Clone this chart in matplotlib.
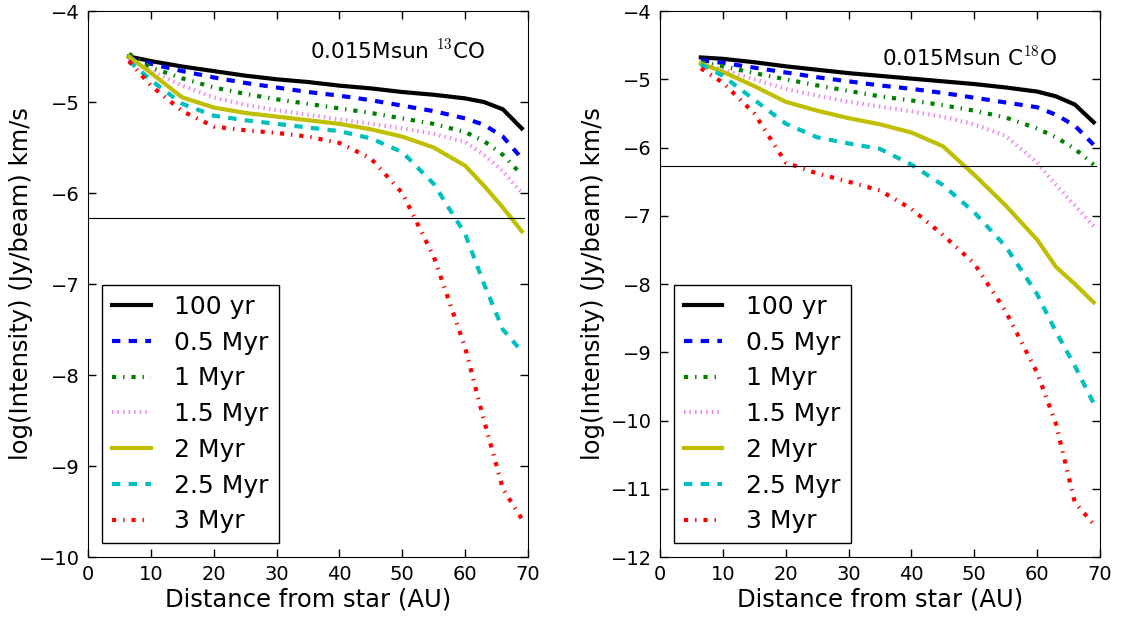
import numpy as np
import matplotlib
matplotlib.use('Agg')
import matplotlib.pyplot as plt

# radius grid (AU) shared by all model curves
radius = [6.5, 10, 15, 20, 25, 30, 35, 40, 45, 50, 55, 60, 63, 66, 69]
ages = ['100 yr', '0.5 Myr', '1 Myr', '1.5 Myr', '2 Myr', '2.5 Myr', '3 Myr']

# log intensity, 13CO
co13_100yr = [-4.50, -4.55, -4.61, -4.66, -4.71, -4.75, -4.78, -4.82, -4.85, -4.89, -4.92, -4.96, -5.00, -5.08, -5.29]
co13_05myr = [-4.52, -4.58, -4.66, -4.73, -4.79, -4.84, -4.89, -4.93, -4.98, -5.04, -5.10, -5.18, -5.25, -5.38, -5.62]
co13_1myr = [-4.47, -4.62, -4.74, -4.84, -4.91, -4.97, -5.02, -5.07, -5.12, -5.18, -5.24, -5.33, -5.43, -5.58, -5.80]
co13_15myr = [-4.52, -4.66, -4.82, -4.95, -5.03, -5.09, -5.14, -5.19, -5.24, -5.29, -5.35, -5.44, -5.58, -5.76, -6.00]
co13_2myr = [-4.50, -4.68, -4.95, -5.06, -5.12, -5.16, -5.20, -5.24, -5.30, -5.38, -5.50, -5.70, -5.92, -6.16, -6.42]
co13_25myr = [-4.55, -4.76, -5.02, -5.15, -5.20, -5.24, -5.28, -5.32, -5.40, -5.55, -5.90, -6.45, -7.00, -7.50, -7.74]
co13_3myr = [-4.55, -4.82, -5.10, -5.27, -5.31, -5.34, -5.38, -5.45, -5.62, -6.00, -6.70, -7.70, -8.50, -9.25, -9.58]

# log intensity, C18O
c18o_100yr = [-4.68, -4.70, -4.75, -4.81, -4.86, -4.91, -4.95, -4.99, -5.03, -5.07, -5.12, -5.18, -5.25, -5.37, -5.63]
c18o_05myr = [-4.72, -4.76, -4.83, -4.90, -4.97, -5.03, -5.09, -5.14, -5.20, -5.27, -5.34, -5.41, -5.52, -5.68, -5.96]
c18o_1myr = [-4.75, -4.81, -4.91, -5.00, -5.09, -5.17, -5.25, -5.31, -5.38, -5.46, -5.56, -5.72, -5.85, -6.02, -6.25]
c18o_15myr = [-4.77, -4.86, -5.00, -5.14, -5.24, -5.33, -5.40, -5.47, -5.55, -5.66, -5.83, -6.22, -6.55, -6.85, -7.15]
c18o_2myr = [-4.77, -4.89, -5.10, -5.33, -5.46, -5.57, -5.66, -5.78, -5.98, -6.40, -6.85, -7.35, -7.75, -8.00, -8.27]
c18o_25myr = [-4.78, -4.95, -5.30, -5.65, -5.85, -5.94, -6.02, -6.25, -6.55, -6.95, -7.45, -8.15, -8.70, -9.20, -9.75]
c18o_3myr = [-4.84, -5.05, -5.50, -6.22, -6.38, -6.50, -6.63, -6.90, -7.28, -7.70, -8.40, -9.30, -10.05, -11.20, -11.52]

# detection limit
noise_level = -6.27
noise_r = [0, 69.3]

colors = ['k', 'b', 'g', 'violet', 'y', 'c', 'r']
styles = ['-', '--', '-.', ':', '-', '--', '-.']

plt.rcParams['mathtext.fontset'] = 'cm'
plt.rcParams['lines.scale_dashes'] = False
plt.rcParams['lines.dashed_pattern'] = [6, 6]
plt.rcParams['lines.dashdot_pattern'] = [3, 5, 1, 5]
plt.rcParams['lines.dotted_pattern'] = [1, 3]

fig = plt.figure(figsize=(11.23, 6.2), dpi=100)
ax1 = fig.add_axes([0.0784, 0.1016, 0.3918, 0.8806])
ax2 = fig.add_axes([0.5877, 0.1016, 0.3918, 0.8806])

panels = [
    (ax1, [co13_100yr, co13_05myr, co13_1myr, co13_15myr, co13_2myr, co13_25myr, co13_3myr],
     r'0.015Msun $^{13}$CO', -4.43, (-10, -4)),
    (ax2, [c18o_100yr, c18o_05myr, c18o_1myr, c18o_15myr, c18o_2myr, c18o_25myr, c18o_3myr],
     r'0.015Msun C$^{18}$O', -4.68, (-12, -4)),
]

for ax, curves, title, ty, ylim in panels:
    for y, c, ls, lab in zip(curves, colors, styles, ages):
        ax.plot(radius, y, color=c, linestyle=ls, lw=3, label=lab)
    ax.plot(noise_r, [noise_level, noise_level], color='k', lw=0.8)
    ax.text(35.3, ty, title, fontsize=15.5, va='center')
    ax.set_xlim(0, 70)
    ax.set_ylim(*ylim)
    ax.set_xticks(range(0, 71, 10))
    ax.set_yticks(range(ylim[0], ylim[1] + 1))
    ax.tick_params(direction='in', top=True, right=True, length=6, width=1, labelsize=14, pad=6)
    ax.set_xlabel('Distance from star (AU)', fontsize=17.5, labelpad=2)
    ax.set_ylabel('log(Intensity) (Jy/beam) km/s', fontsize=17.5)
    leg = ax.legend(loc='lower left', fontsize=18, fancybox=False, edgecolor='k',
                    handlelength=1.55, handletextpad=0.95, labelspacing=0.47,
                    borderaxespad=0.55, framealpha=1)
    leg.get_frame().set_linewidth(1)

fig.savefig('out.png', dpi=100)
